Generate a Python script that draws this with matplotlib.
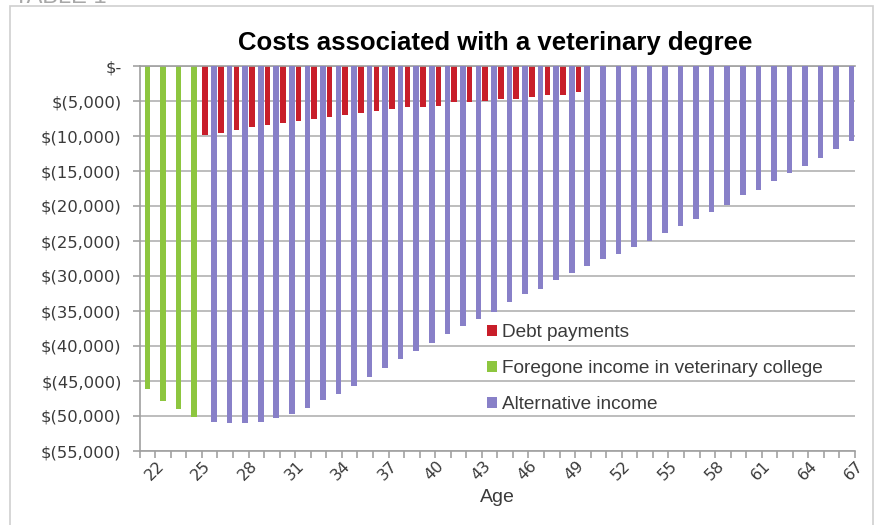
import matplotlib
matplotlib.use("Agg")
import matplotlib.pyplot as plt
import matplotlib.transforms as mtransforms
from matplotlib.patches import Rectangle
from matplotlib.ticker import FixedLocator, FuncFormatter

# ---- data (annual cash flows, US$) ----
ages = list(range(22, 68))

college_ages = [22, 23, 24, 25]
foregone_income = [-46200, -47900, -49000, -50200]

debt_ages = list(range(26, 51))
debt_payments = [-9900, -9570, -9100, -8760, -8380, -8140, -7810, -7620,
                 -7290, -7050, -6710, -6480, -6140, -5860, -5860, -5670,
                 -5190, -5140, -5050, -4760, -4670, -4480, -4190, -4190,
                 -3760]

alt_ages = list(range(26, 68))
alternative_income = [-50800, -51000, -51000, -50800, -50300, -49700,
                      -48900, -47700, -46800, -45700, -44400, -43200,
                      -41800, -40700, -39600, -38300, -37100, -36200,
                      -35100, -33700, -32600, -31800, -30600, -29600,
                      -28600, -27600, -26900, -25800, -25000, -23800,
                      -22900, -21800, -20900, -19800, -18400, -17700,
                      -16400, -15300, -14300, -13200, -11900, -10700]

y_ticks = list(range(0, -55001, -5000))
label_ages = ages[::3]

series_names = ["Debt payments",
                "Foregone income in veterinary college",
                "Alternative income"]
series_colors = ["#C81E2A", "#8DC63F", "#8880C8"]

# ---- figure ----
W, H = 882, 525
fig = plt.figure(figsize=(W / 100, H / 100), dpi=100)
fig.patch.set_facecolor("white")

ax_l, ax_r, ax_t, ax_b = 139.7, 855.0, 66.0, 451.0
ax = fig.add_axes([ax_l / W, 1 - ax_b / H, (ax_r - ax_l) / W, (ax_b - ax_t) / H])

def pos(a_list):
    return [a - ages[0] for a in a_list]

bw = 0.36
off = 0.283
b_debt = ax.bar([p - off for p in pos(debt_ages)], debt_payments, width=bw,
                color=series_colors[0], zorder=2, label=series_names[0])
b_fore = ax.bar(pos(college_ages), foregone_income, width=bw,
                color=series_colors[1], zorder=2, label=series_names[1])
b_alt = ax.bar([p + off for p in pos(alt_ages)], alternative_income, width=bw,
               color=series_colors[2], zorder=3, label=series_names[2])

ax.set_xlim(-0.5, len(ages) - 0.5)
ax.set_ylim(-55000, 0)

# y axis: accounting style dollars
def dollars(v, _):
    if v == 0:
        return "$-"
    return "$({:,})".format(int(abs(v)))

ax.yaxis.set_major_locator(FixedLocator(y_ticks))
ax.yaxis.set_major_formatter(FuncFormatter(dollars))
ax.yaxis.grid(True, color="#ababab", linewidth=1.1, zorder=0)
ax.set_axisbelow(True)
ax.tick_params(axis="y", direction="out", length=5, width=1.1,
               color="#9a9a9a", labelsize=11.8, labelcolor="#3a3a3a", pad=8)

# x axis: ticks between categories, labels every third age
ax.set_xticks(pos(label_ages))
ax.set_xticklabels([str(a) for a in label_ages])
ax.set_xticks([i - 0.5 for i in range(len(ages) + 1)], minor=True)
ax.tick_params(axis="x", which="major", length=0, labelsize=11.5,
               labelcolor="#3a3a3a", pad=5)
ax.tick_params(axis="x", which="minor", direction="out", length=5,
               width=1.1, color="#9a9a9a")
shift = mtransforms.ScaledTranslation(7 / 100, 0, fig.dpi_scale_trans)
for lab in ax.get_xticklabels():
    lab.set_rotation(45)
    lab.set_ha("center")
    lab.set_va("top")
    lab.set_transform(lab.get_transform() + shift)

ax.spines["right"].set_visible(False)
for s in ["left", "bottom", "top"]:
    ax.spines[s].set_color("#a0a0a0")
    ax.spines[s].set_linewidth(1.2)

ax.set_xlabel("Age", fontsize=14, color="#3a3a3a",
              family="Liberation Sans", labelpad=4)

fig.text(495 / W, 1 - 43 / H, "Costs associated with a veterinary degree",
         ha="center", va="center", fontsize=18.5, fontweight="bold",
         family="Liberation Sans", color="black")

leg = ax.legend(handles=[b_debt, b_fore, b_alt], loc="upper left",
                bbox_to_anchor=(474 / W, 1 - 311 / H),
                bbox_transform=fig.transFigure, frameon=False,
                prop={"family": "Liberation Sans", "size": 13.7},
                handlelength=0.5, handleheight=0.5, handletextpad=0.25,
                labelspacing=1.0, borderpad=0.2)
for t in leg.get_texts():
    t.set_color("#3a3a3a")

# outer chart border and caption peeking above it
fig.patches.append(Rectangle((10 / W, -0.01), 863 / W, 1 - 6 / H + 0.01,
                             transform=fig.transFigure, fill=False,
                             edgecolor="#cfcfcf", linewidth=1.2))
fig.text(14 / W, 1 - 3 / H, "TABLE 1", ha="left", va="baseline",
         fontsize=17, family="Liberation Sans", color="#a8a8a8")

fig.savefig("out.png", dpi=100, facecolor="white")
